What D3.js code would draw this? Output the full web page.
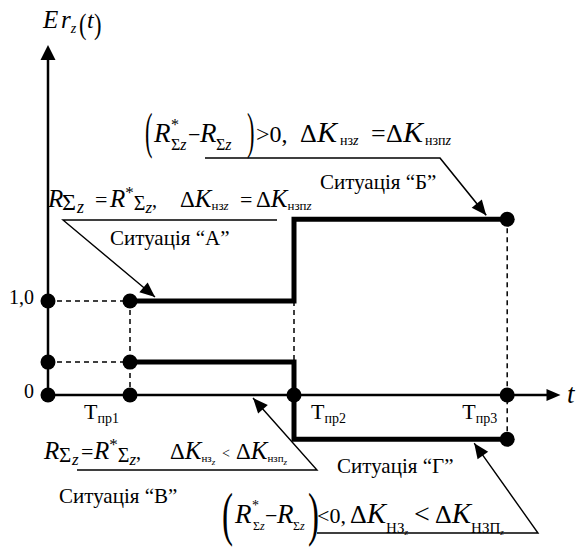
<!DOCTYPE html>
<html>
<head>
<meta charset="utf-8">
<script src="https://cdn.jsdelivr.net/npm/d3@7"></script>
<style>
  html, body { margin: 0; padding: 0; background: #fff; }
  svg { display: block; }
</style>
</head>
<body>
<svg id="chart" width="579" height="547"></svg>
<script>
// моменти часу Т_пр і рівні Er_z(t)
let timeSubs = ["пр1", "пр2", "пр3"]
let timeValues = [1, 3, 5.6]
let yTickValues = [0, 1.0]
let yTickLabels = ["0", "1,0"]
let levelAB = [1.0, 1.87]    // ситуації "А" -> "Б"
let levelVG = [0.35, -0.47]  // ситуації "В" -> "Г"

let serif = "Liberation Serif, DejaVu Serif, serif"
let svg = d3.select("#chart")

let x = d3.scaleLinear().domain([0, 6.25]).range([48, 560.5])
let y = d3.scaleLinear().domain([0, 1]).range([395, 301])
let x0 = x(0), y0 = y(0)

let line = d3.line().x(d => x(d.t)).y(d => y(d.v)).curve(d3.curveStepAfter)
let seriesAB = [
    { t: timeValues[0], v: levelAB[0] },
    { t: timeValues[1], v: levelAB[1] },
    { t: timeValues[2], v: levelAB[1] }
]
let seriesVG = [
    { t: timeValues[0], v: levelVG[0] },
    { t: timeValues[1], v: levelVG[1] },
    { t: timeValues[2], v: levelVG[1] }
]

function arrowHead(g, x1, y1, x2, y2, len, hw) {
    let a = Math.atan2(y2 - y1, x2 - x1)
    let bx = x2 - len * Math.cos(a), by = y2 - len * Math.sin(a)
    let px = -Math.sin(a) * hw, py = Math.cos(a) * hw
    g.append("path")
        .attr("d", `M${x2},${y2} L${bx + px},${by + py} L${bx - px},${by - py} Z`)
        .attr("fill", "#000")
}

// формула з фрагментів: [текст, x (null - далі за текстом), зсув, розмір, курсив]
function rich(baseY, parts) {
    let t = svg.append("text").attr("y", baseY).attr("font-family", serif).attr("fill", "#000")
    let cur = 0
    parts.forEach(p => {
        let [str, px, shift, size, ital] = p
        let s = t.append("tspan")
            .attr("dy", shift - cur)
            .attr("font-size", size)
            .attr("font-style", ital ? "italic" : "normal")
            .text(str)
        if (px != null) s.attr("x", px)
        cur = shift
    })
    return t
}

function paren(ch, px, baseY, size, sx) {
    svg.append("text")
        .attr("transform", `translate(${px},${baseY}) scale(${sx},1)`)
        .attr("font-family", serif)
        .attr("font-size", size)
        .text(ch)
}

function label(str, px, py) {
    svg.append("text").attr("x", px).attr("y", py)
        .attr("font-family", serif).attr("font-size", 21)
        .text(str)
}

// пунктирні допоміжні лінії
let dash = svg.append("g")
    .attr("stroke", "#000")
    .attr("stroke-width", 1.5)
    .attr("stroke-dasharray", "5,4")
    .attr("fill", "none")
let dashLines = [
    [0, levelAB[0], timeValues[0], levelAB[0]],
    [0, levelVG[0], timeValues[0], levelVG[0]],
    [timeValues[0], levelAB[0], timeValues[0], 0],
    [timeValues[1], levelAB[0], timeValues[1], levelVG[0]],
    [timeValues[2], levelAB[1], timeValues[2], levelVG[1]]
]
dash.selectAll("line")
    .data(dashLines)
    .enter()
    .append("line")
    .attr("x1", d => x(d[0]))
    .attr("y1", d => y(d[1]))
    .attr("x2", d => x(d[2]))
    .attr("y2", d => y(d[3]))

// осі
let axes = svg.append("g")
axes.append("line")
    .attr("x1", x0).attr("y1", y0)
    .attr("x2", x0).attr("y2", 58)
    .attr("stroke", "#000").attr("stroke-width", 2.5)
arrowHead(axes, x0, 100, x0, 45, 15, 7.5)
axes.append("line")
    .attr("x1", x0).attr("y1", y0)
    .attr("x2", 548).attr("y2", y0)
    .attr("stroke", "#000").attr("stroke-width", 2.5)
arrowHead(axes, 500, y0, x(6.25), y0, 14, 6)

// ступінчасті лінії
svg.append("g")
    .selectAll("path")
    .data([seriesAB, seriesVG])
    .enter()
    .append("path")
    .attr("d", d => line(d))
    .attr("fill", "none")
    .attr("stroke", "#000")
    .attr("stroke-width", 5)
    .attr("stroke-linejoin", "miter")

// точки
let dots = [
    [0, levelAB[0]], [0, levelVG[0]], [0, 0],
    [timeValues[0], levelAB[0]], [timeValues[0], levelVG[0]], [timeValues[0], 0],
    [timeValues[1], 0], [timeValues[2], 0],
    [timeValues[2], levelAB[1]], [timeValues[2], levelVG[1]]
]
svg.append("g")
    .selectAll("circle")
    .data(dots)
    .enter()
    .append("circle")
    .attr("cx", d => x(d[0]))
    .attr("cy", d => y(d[1]))
    .attr("r", 7.5)
    .attr("fill", "#000")

// підписи осей
svg.append("g")
    .selectAll("text")
    .data(yTickValues)
    .enter()
    .append("text")
    .attr("x", x0 - 14)
    .attr("y", d => y(d) + 3)
    .attr("text-anchor", "end")
    .attr("font-family", serif)
    .attr("font-size", 20)
    .text((d, i) => yTickLabels[i])

let tOffsets = [-46, 17, -45]
timeValues.forEach((tv, i) => {
    let tx = x(tv) + tOffsets[i]
    rich(y0 + 24, [
        ["Т", tx, 0, 22, false],
        [timeSubs[i], null, 4, 14, false]
    ])
})

rich(28, [
    ["E", 43, 0, 25, true],
    ["r", 61, 0, 25, true],
    ["z", null, 5, 14, true]
])
paren("(", 79, 34, 30, 0.75)
rich(28, [["t", 87, 0, 24, true]])
paren(")", 94, 34, 30, 0.75)
svg.append("text")
    .attr("x", 567).attr("y", y0 + 8)
    .attr("font-family", serif).attr("font-size", 27).attr("font-style", "italic")
    .text("t")

// виноски
let callout = svg.append("g").attr("stroke", "#000").attr("fill", "none")
function leader(pts, tip, sw) {
    let all = pts.concat([tip])
    callout.append("path")
        .attr("d", d3.line()(all))
        .attr("stroke-width", sw)
    let p = all[all.length - 2]
    arrowHead(svg, p[0], p[1], tip[0], tip[1], 15, 6.5)
}

// ситуація "А"
rich(207, [
    ["R", 48, 0, 25, true],
    ["Σ", 62, 3, 24, false],
    ["z", 77, 6, 18, true],
    ["=", 95, 0, 22, false],
    ["R", 110, 0, 25, true],
    ["*", null, -9, 17, false],
    ["Σ", null, 3, 20, false],
    ["z", null, 6, 17, true],
    [",", null, 0, 20, false],
    ["Δ", 180, 0, 23, false],
    ["K", null, 0, 25, true],
    ["нз", null, 3, 13, false],
    ["z", null, 3, 13, true],
    ["=", 240, 0, 22, false],
    ["Δ", 256, 0, 23, false],
    ["K", null, 0, 25, true],
    ["нзп", null, 3, 13, false],
    ["z", null, 3, 13, true]
])
leader([[277, 220], [63, 220]], [x(timeValues[0]) + 25, y(levelAB[0]) - 4], 1.4)
label("Ситуація “А”", 110, 245)

// ситуація "Б"
paren("(", 145, 148, 50, 0.45)
rich(142, [
    ["R", 154, 0, 27, true],
    ["*", 171, -12, 16, false],
    ["Σ", 171, 8, 16, false],
    ["z", null, 8, 16, true],
    ["−", 188, 0, 22, false],
    ["R", 200, 0, 27, true],
    ["Σ", 216, 8, 16, false],
    ["z", null, 8, 16, true]
])
paren(")", 247, 148, 50, 0.45)
rich(142, [
    [">0,", 256, 0, 24, false],
    ["Δ", 300, 0, 26, false],
    ["K", 317, 0, 30, true],
    ["нз", 340, 3, 14, false],
    ["z", null, 3, 14, true],
    ["=", 371, 0, 26, false],
    ["Δ", 386, 0, 26, false],
    ["K", 403, 0, 30, true],
    ["нзп", 425, 3, 14, false],
    ["z", null, 3, 14, true]
])
leader([[205, 158], [440, 158]], [x(timeValues[2]) - 21, y(levelAB[1]) - 4], 1.6)
label("Ситуація “Б”", 320, 189)

// ситуація "В"
rich(459, [
    ["R", 44, 0, 25, true],
    ["Σ", 59, 3, 21, false],
    ["z", 72, 6, 17, true],
    ["=", 81, 0, 22, false],
    ["R", 94, 0, 25, true],
    ["*", null, -9, 17, false],
    ["Σ", null, 3, 20, false],
    ["z", null, 6, 17, true],
    [",", null, 0, 20, false],
    ["Δ", 170, 0, 23, false],
    ["K", null, 0, 25, true],
    ["нз", null, 3, 11, false],
    ["z", null, 6, 9, true],
    ["<", 222, -1, 14, false],
    ["Δ", 236, 0, 23, false],
    ["K", null, 0, 25, true],
    ["нзп", null, 3, 11, false],
    ["z", null, 6, 9, true]
])
leader([[77, 470], [317, 470]], [x(2.5), y0 + 3], 1.4)
label("Ситуація “В”", 59, 503)

// ситуація "Г"
label("Ситуація “Г”", 337, 473)
paren("(", 222, 534, 60, 0.55)
rich(523, [
    ["R", 235, 0, 27, true],
    ["*", 252, -13, 14, false],
    ["Σ", 253, 7, 12, false],
    ["z", null, 7, 12, true],
    ["−", 265, 0, 22, false],
    ["R", 277, 0, 27, true],
    ["Σ", 293, 7, 12, false],
    ["z", null, 7, 12, true]
])
paren(")", 308, 534, 60, 0.55)
rich(523, [
    ["<0,", 317, 0, 22, false],
    ["Δ", 350, 0, 26, false],
    ["K", null, 0, 29, true],
    ["НЗ", null, 10, 15, false],
    ["z", null, 12, 9, true],
    ["<", 414, 0, 28, false],
    ["Δ", 435, 0, 26, false],
    ["K", null, 0, 29, true],
    ["НЗП", null, 10, 15, false],
    ["z", null, 12, 9, true]
])
leader([[317, 533], [538, 533]], [x(timeValues[2]) - 33, y(levelVG[1]) + 4], 1.4)
</script>
</body>
</html>
